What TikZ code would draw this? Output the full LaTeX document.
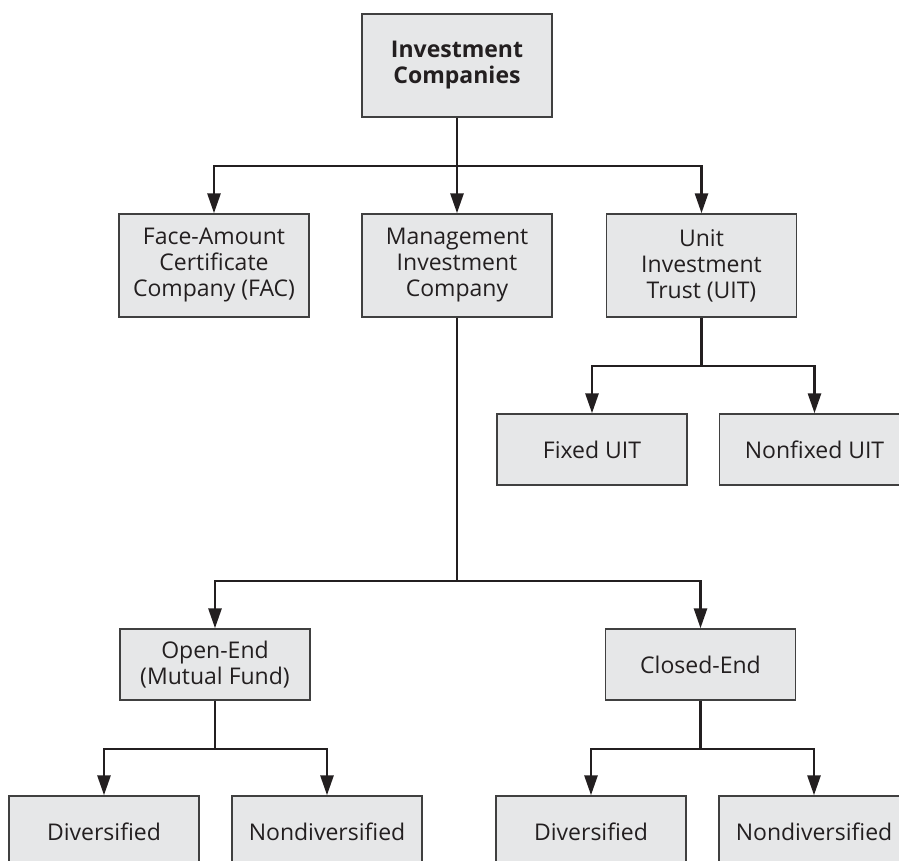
\documentclass[tikz,border=0pt]{standalone}
\usepackage{fontspec}
\setmainfont{Open Sans}
\usetikzlibrary{arrows.meta}
\definecolor{boxfill}{HTML}{E6E7E8}
\definecolor{boxline}{HTML}{404040}
\definecolor{conn}{HTML}{231F20}
\begin{document}
\begin{tikzpicture}[x=1pt,y=1pt,
  box/.style={draw=boxline, line width=1.4pt, fill=boxfill, minimum width=190pt,
    inner sep=0pt, align=center, text=conn,
    font=\fontsize{23}{26}\selectfont},
  tall/.style={box, minimum height=103pt},
  short/.style={box, minimum height=71pt},
  link/.style={draw=conn, line width=2.8pt, line join=miter},
  arr/.style={link, -{Triangle[length=20pt,width=13pt]}}]
\useasboundingbox (0,0) rectangle (899,-861);
\node[tall, font=\fontsize{23}{26}\selectfont\bfseries] (top) at (457,-65.5) {Investment\\Companies};
\node[tall] (fac) at (214,-265.5) {Face-Amount\\Certificate\\Company (FAC)};
\node[tall] (mgmt) at (457,-265.5) {Management\\Investment\\Company};
\node[tall] (uit) at (701.5,-265.5) {Unit\\Investment\\Trust (UIT)};
\node[short] (fixed) at (592,-449.5) {Fixed UIT};
\node[short] (nonfixed) at (814.5,-449.5) {Nonfixed UIT};
\node[short] (open) at (215,-664.5) {Open-End\\(Mutual Fund)};
\node[short] (closed) at (700.5,-664.5) {Closed-End};
\node[short] (div1) at (104,-831.5) {Diversified};
\node[short] (nondiv1) at (327,-831.5) {Nondiversified};
\node[short] (div2) at (591,-831.5) {Diversified};
\node[short] (nondiv2) at (814,-831.5) {Nondiversified};
\coordinate (b1) at (457,-166);
\coordinate (b2) at (701.5,-366);
\coordinate (b3) at (457,-581);
\coordinate (b4) at (215,-749);
\coordinate (b5) at (700.5,-749);
\draw[link] (top.south) -- (b1);
\draw[arr] (b1) -| (fac.north);
\draw[arr] (b1) -| (uit.north);
\draw[arr] (b1) -- (mgmt.north);
\draw[link] (uit.south) -- (b2);
\draw[arr] (b2) -| (fixed.north);
\draw[arr] (b2) -| (nonfixed.north);
\draw[link] (mgmt.south) -- (b3);
\draw[arr] (b3) -| (open.north);
\draw[arr] (b3) -| (closed.north);
\draw[link] (open.south) -- (b4);
\draw[arr] (b4) -| (div1.north);
\draw[arr] (b4) -| (nondiv1.north);
\draw[link] (closed.south) -- (b5);
\draw[arr] (b5) -| (div2.north);
\draw[arr] (b5) -| (nondiv2.north);
\end{tikzpicture}
\end{document}
